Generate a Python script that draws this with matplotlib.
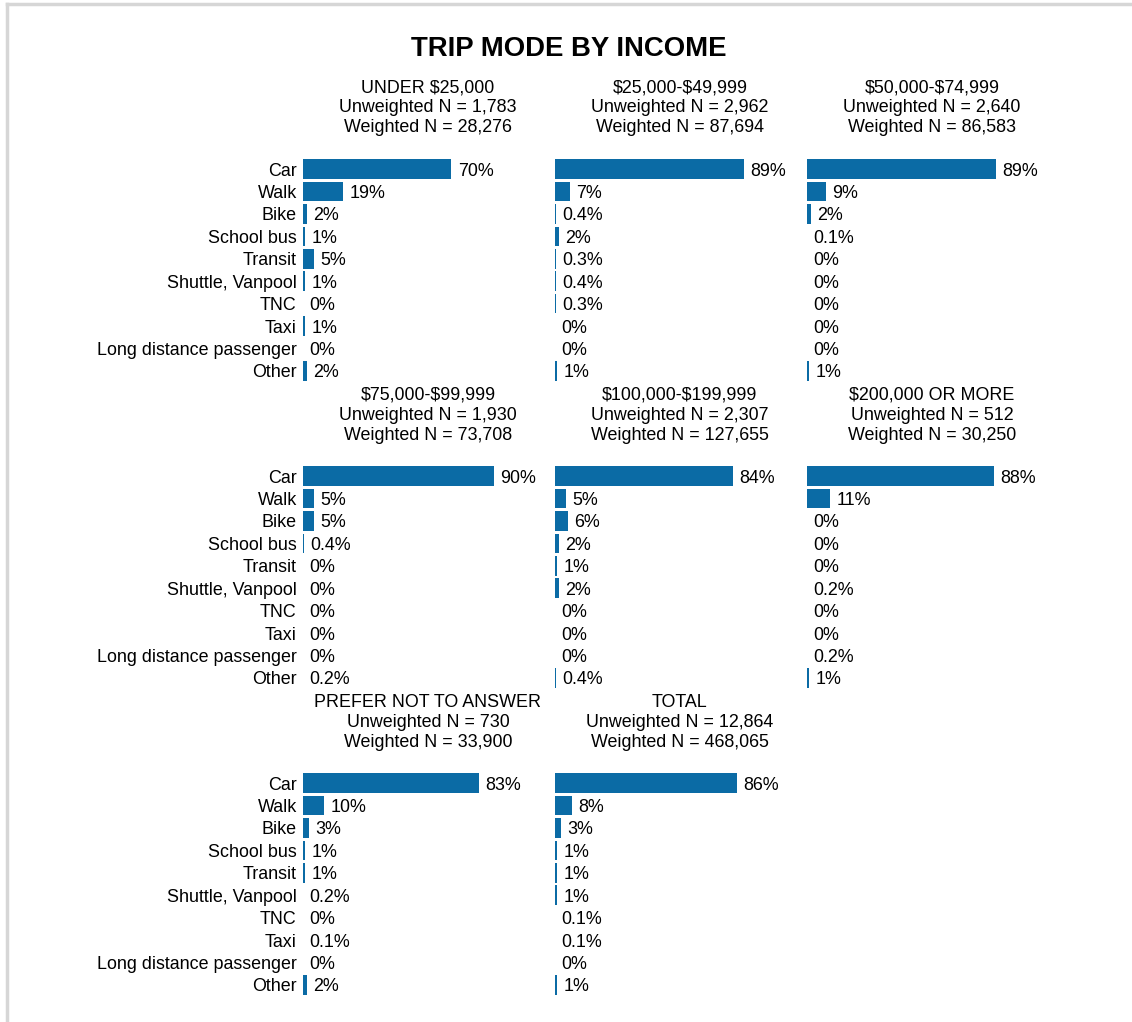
import matplotlib
matplotlib.use("Agg")
import matplotlib.pyplot as plt
from matplotlib.lines import Line2D

plt.rcParams["font.family"] = ["Liberation Sans", "DejaVu Sans"]
plt.rcParams["text.parse_math"] = False

# ── Data ──────────────────────────────────────────────────────────────────────
MODES = ["Car", "Walk", "Bike", "School bus", "Transit", "Shuttle, Vanpool",
         "TNC", "Taxi", "Long distance passenger", "Other"]

GROUPS = ["UNDER $25,000", "$25,000-$49,999", "$50,000-$74,999",
          "$75,000-$99,999", "$100,000-$199,999", "$200,000 OR MORE",
          "PREFER NOT TO ANSWER", "TOTAL"]

UNWEIGHTED_N = [1783, 2962, 2640, 1930, 2307, 512, 730, 12864]
WEIGHTED_N   = [28276, 87694, 86583, 73708, 127655, 30250, 33900, 468065]

SHARES = [
    [70, 19, 2, 1, 5, 1, 0, 1, 0, 2],
    [89, 7, 0.4, 2, 0.3, 0.4, 0.3, 0, 0, 1],
    [89, 9, 2, 0.1, 0, 0, 0, 0, 0, 1],
    [90, 5, 5, 0.4, 0, 0, 0, 0, 0, 0.2],
    [84, 5, 6, 2, 1, 2, 0, 0, 0, 0.4],
    [88, 11, 0, 0, 0, 0.2, 0, 0, 0.2, 1],
    [83, 10, 3, 1, 1, 0.2, 0, 0.1, 0, 2],
    [86, 8, 3, 1, 1, 1, 0.1, 0.1, 0, 1],
]

BAR_COLOR = "#0B6BA5"
W, H = 1132, 1022
FS = 12.9


def fmt(v):
    return f"{v:.0f}%" if (v >= 1 or v == 0) else f"{v:.1f}%"


fig = plt.figure(figsize=(W / 100, H / 100), dpi=100)
fig.patch.set_facecolor("white")

# page border from the screenshot
fig.add_artist(Line2D([7 / W, 1], [1 - 4 / H, 1 - 4 / H], color="#d6d6d6", lw=2.5))
fig.add_artist(Line2D([7 / W, 7 / W], [0, 1 - 4 / H], color="#d6d6d6", lw=2.5))

fig.text(569 / W, 1 - 49 / H, "TRIP MODE BY INCOME", ha="center", va="center",
         fontsize=19.8, fontweight="bold")

x0, dx = 303, 252          # bar origin of first column, column spacing (px)
y_car, dy = 169, 307       # Car row centre in first row, row spacing (px)
step = 22.44               # px between categories
ax_w = 212                 # px for 0..100 %

for i, grp in enumerate(GROUPS):
    r, c = divmod(i, 3)
    left = x0 + c * dx
    top = y_car + r * dy - step / 2
    bottom = top + step * len(MODES)
    ax = fig.add_axes([left / W, 1 - bottom / H, ax_w / W, (bottom - top) / H])
    vals = SHARES[i]
    ypos = range(len(MODES))
    ax.barh(ypos, vals, height=0.87, color=BAR_COLOR)
    ax.set_xlim(0, 100)
    ax.set_ylim(len(MODES) - 0.5, -0.5)
    for y, v in zip(ypos, vals):
        ax.annotate(fmt(v), (v, y), xytext=(4.5, 0), textcoords="offset points",
                    va="center_baseline", ha="left", fontsize=FS)
    ax.set_xticks([])
    if c == 0:
        ax.set_yticks(list(ypos))
        ax.set_yticklabels(MODES, fontsize=FS)
        ax.tick_params(axis="y", length=0, pad=4.5)
    else:
        ax.set_yticks([])
    for s in ax.spines.values():
        s.set_visible(False)
    ax.patch.set_alpha(0)

    cx = (left + 125) / W
    hy = 88 + r * dy
    fig.text(cx, 1 - hy / H, grp, ha="center", va="center", fontsize=FS)
    fig.text(cx, 1 - (hy + 20) / H, f"Unweighted N = {UNWEIGHTED_N[i]:,}",
             ha="center", va="center", fontsize=FS)
    fig.text(cx, 1 - (hy + 40) / H, f"Weighted N = {WEIGHTED_N[i]:,}",
             ha="center", va="center", fontsize=FS)

fig.savefig("out.png", dpi=100)
